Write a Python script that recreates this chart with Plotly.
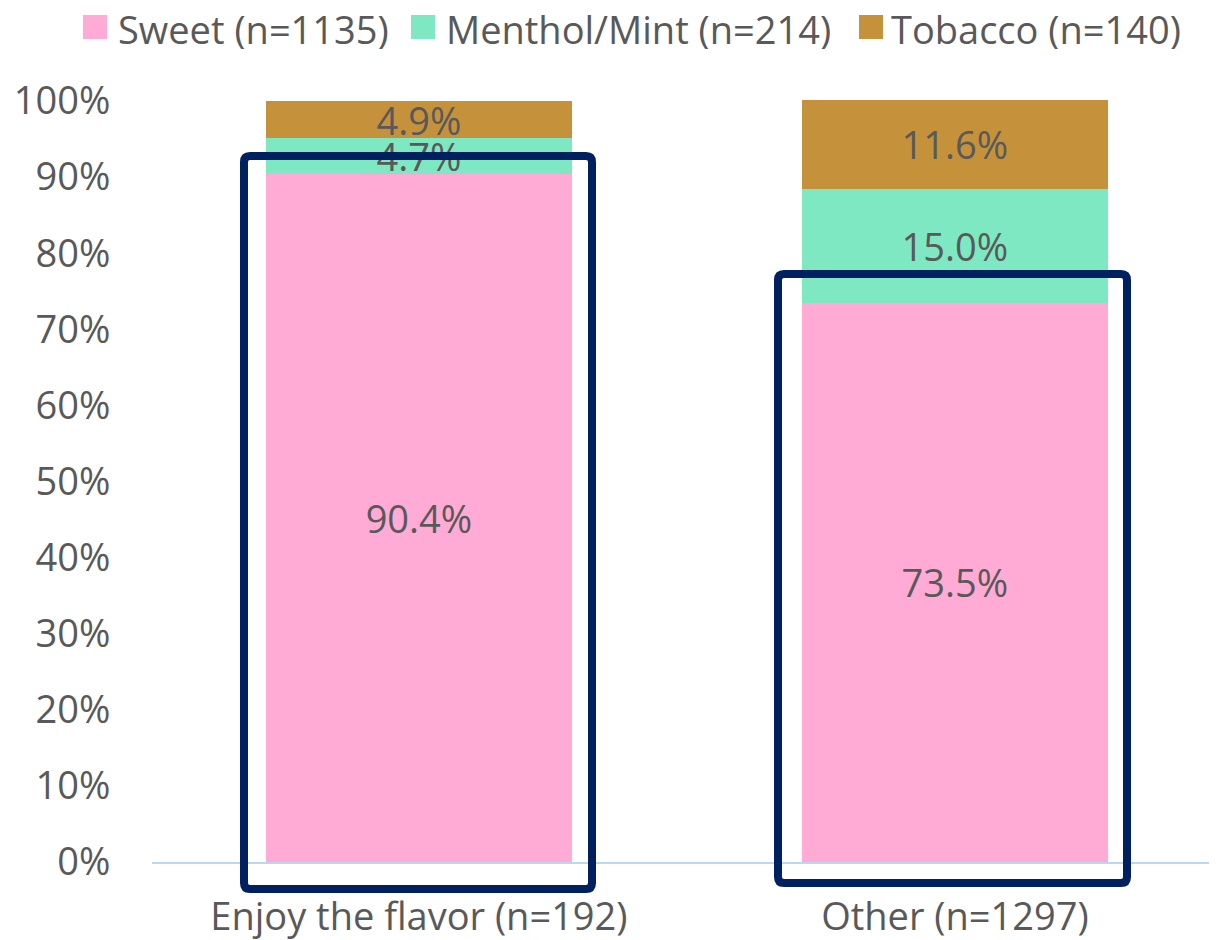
import plotly.graph_objects as go

categories = ["Enjoy the flavor (n=192)", "Other (n=1297)"]
sweet = [90.4, 73.5]
menthol = [4.7, 15.0]
tobacco = [4.9, 11.6]
series_names = ["Sweet (n=1135)", "Menthol/Mint (n=214)", "Tobacco (n=140)"]
colors = ["#FFABD5", "#7EE8C2", "#C5923B"]
y_ticks = list(range(0, 101, 10))
y_ticktext = [f"{v}%" for v in y_ticks]

OFF = 8  # browser body margin
W, H = 1217 - OFF, 940 - OFF
ML, MR, MT, MB = 144, 0, 92, 78
PW, PH = W - ML - MR, H - MT - MB
FONT = "Open Sans"
GRAY = "#595959"
FS = 38

fig = go.Figure()
for name, vals, col in zip(series_names, [sweet, menthol, tobacco], colors):
    fig.add_trace(go.Bar(
        x=categories, y=vals, name=name, marker=dict(color=col, line=dict(width=0)),
        text=[f"{v:.1f}%" for v in vals], textposition="inside",
        insidetextanchor="middle", textangle=0,
        textfont=dict(family=FONT, size=FS, color=GRAY),
        width=0.571, cliponaxis=False, showlegend=False,
    ))

def px_x(px):
    return (px - OFF - ML) / PW

def px_y(py):
    return (H - MB - (py - OFF)) / PH

def rounded_rect(x0, x1, y0, y1, r):
    X0, X1 = px_x(x0), px_x(x1)
    Yt, Yb = px_y(y0), px_y(y1)
    rx = r / PW
    ry = r / PH
    return (f"M {X0+rx},{Yt} L {X1-rx},{Yt} Q {X1},{Yt} {X1},{Yt-ry} "
            f"L {X1},{Yb+ry} Q {X1},{Yb} {X1-rx},{Yb} "
            f"L {X0+rx},{Yb} Q {X0},{Yb} {X0},{Yb+ry} "
            f"L {X0},{Yt-ry} Q {X0},{Yt} {X0+rx},{Yt} Z")

rects = [(244, 592, 156, 889), (778, 1127, 274, 883)]
for x0, x1, y0, y1 in rects:
    fig.add_shape(type="path", xref="paper", yref="paper",
                  path=rounded_rect(x0, x1, y0, y1, 6),
                  line=dict(color="#002060", width=8), layer="above")

# manual legend (page-pixel layout positions)
legend_square_x = [83, 411, 859]
legend_text_x = [117, 445, 890]
for name, col, sx, tx in zip(series_names, colors, legend_square_x, legend_text_x):
    fig.add_shape(type="rect", xref="paper", yref="paper",
                  x0=px_x(sx), x1=px_x(sx + 24), y0=px_y(39), y1=px_y(15),
                  fillcolor=col, line=dict(width=0), layer="above")
    fig.add_annotation(xref="paper", yref="paper", x=px_x(tx), y=px_y(29),
                       xanchor="left", yanchor="middle", text=name, showarrow=False,
                       height=40, valign="middle", borderpad=0,
                       font=dict(family=FONT, size=FS, color=GRAY))

y_top = PH / 7.61

fig.update_layout(
    width=W, height=H, barmode="stack", showlegend=False,
    margin=dict(l=ML, r=MR, t=MT, b=MB, autoexpand=False, pad=0),
    paper_bgcolor="white", plot_bgcolor="white",
    font=dict(family=FONT, color=GRAY, size=FS),
    uniformtext=dict(minsize=FS, mode="show"),
    xaxis=dict(range=[-0.498, 1.489], showline=True, linecolor="#BDD7EE", linewidth=2,
               ticks="outside", ticklen=20, tickcolor="rgba(0,0,0,0)",
               tickfont=dict(family=FONT, size=FS, color=GRAY), showgrid=False,
               fixedrange=True),
    yaxis=dict(range=[0, y_top], tickvals=y_ticks, ticktext=y_ticktext,
               showgrid=False, zeroline=False, showline=False,
               ticks="outside", ticklen=33, tickcolor="rgba(0,0,0,0)",
               tickfont=dict(family=FONT, size=FS, color=GRAY), fixedrange=True),
)

fig.write_html("out.html")
